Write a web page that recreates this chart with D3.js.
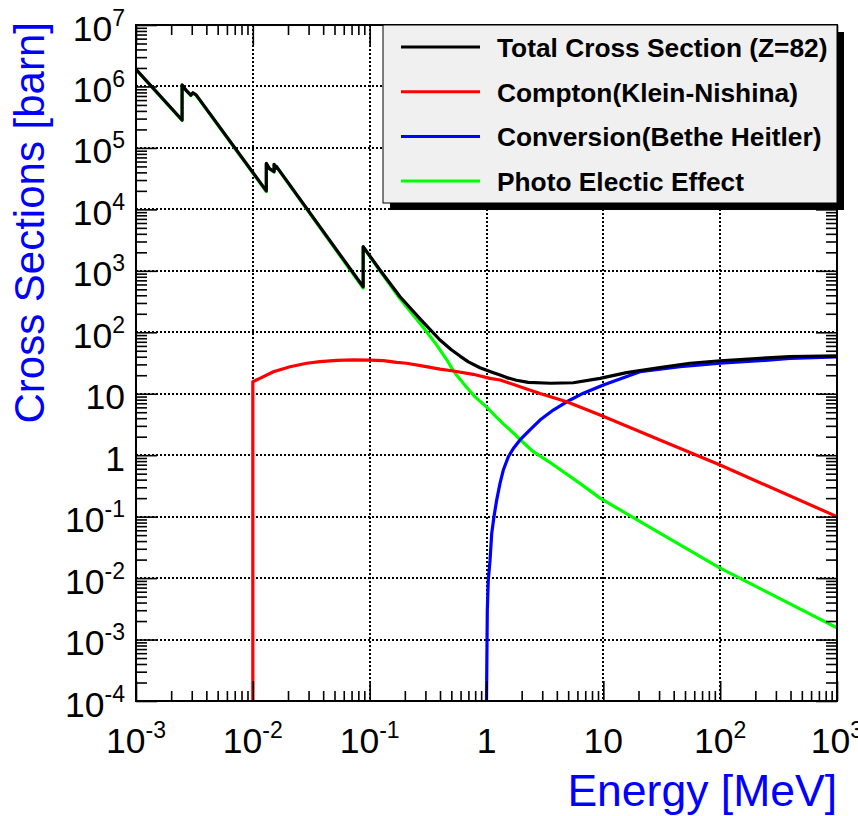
<!DOCTYPE html>
<html>
<head>
<meta charset="utf-8">
<script src="https://d3js.org/d3.v7.min.js"></script>
<style>
  body { margin: 0; background: #fff; }
  svg { display: block; }
  text { font-family: "Liberation Sans", Arial, Helvetica, sans-serif; }
</style>
</head>
<body>
<div id="chart"></div>
<script>
// values (energy in MeV, cross section in barn)
const totalE = [0.001, 0.00248, 0.00248, 0.00268, 0.00295, 0.00307, 0.00327, 0.01304, 0.01304, 0.0138, 0.0152, 0.0152, 0.0159, 0.0159, 0.088, 0.088, 0.1225, 0.182, 0.27, 0.40, 0.5, 0.593, 0.7, 0.879, 1.1, 1.306, 1.49, 1.8, 2.28, 3.55, 5.53, 9.38, 15.8, 30.5, 55.2, 100, 219, 396, 1000];
const totalV = [1.9e6, 2.85e5, 1.06e6, 8.7e5, 7.2e5, 7.9e5, 7.3e5, 2.0e4, 5.6e4, 4.65e4, 4.1e4, 5.4e4, 4.7e4, 5.0e4, 550, 2470, 1030, 378, 165, 74.8, 52, 41, 33, 26.5, 22.6, 20.1, 18.3, 16.6, 15.3, 14.8, 15.1, 17.8, 22.1, 26.6, 31.3, 34.4, 37.7, 40.3, 41.5];

const comptonE = [0.01, 0.01, 0.0115, 0.015, 0.0208, 0.0289, 0.0376, 0.0522, 0.0724, 0.1, 0.131, 0.17, 0.207, 0.288, 0.4, 0.52, 0.77, 1.07, 1.31, 2.87, 4.86, 9.38, 30.5, 100, 1000];
const comptonV = [1e-4, 15.7, 17.8, 22.8, 27.5, 31.3, 33.2, 35.0, 35.5, 35.3, 34.5, 32.4, 31.3, 28.2, 25.2, 23.4, 20.7, 17.8, 16.7, 10.1, 7.4, 4.5, 1.77, 0.69, 0.1];

const conversionE = [1.0, 1.004, 1.016, 1.036, 1.072, 1.108, 1.159, 1.222, 1.305, 1.393, 1.538, 1.696, 1.935, 2.355, 2.87, 3.73, 4.86, 6.75, 10, 20.6, 45.3, 100, 219, 396, 1000];
const conversionV = [1e-4, 2.2e-4, 0.003, 0.0093, 0.0196, 0.053, 0.1, 0.186, 0.348, 0.573, 0.944, 1.28, 1.77, 2.57, 3.73, 5.43, 7.4, 10.2, 13.9, 22.8, 27.5, 31.3, 34.4, 37.7, 39.6];

const photoE = [0.001, 0.00248, 0.00248, 0.00268, 0.00295, 0.00307, 0.00327, 0.01304, 0.01304, 0.0138, 0.0152, 0.0152, 0.0159, 0.0159, 0.088, 0.088, 0.1225, 0.182, 0.288, 0.375, 0.456, 0.515, 0.556, 0.678, 0.798, 1.0, 1.2, 1.4, 1.7, 1.935, 2.5, 3.73, 6.31, 9.38, 30.5, 100, 1000];
const photoV = [1.88e6, 2.8e5, 1.05e6, 8.6e5, 7.1e5, 7.8e5, 7.2e5, 1.95e4, 5.55e4, 4.6e4, 4.05e4, 5.35e4, 4.65e4, 4.95e4, 525, 2440, 1000, 350, 120, 62, 36, 24.5, 20, 12.6, 8.9, 6.1, 4.3, 3.2, 2.3, 1.8, 1.15, 0.70, 0.348, 0.2, 0.0537, 0.0145, 0.00155];

const legendLabels = ["Total Cross Section (Z=82)", "Compton(Klein-Nishina)", "Conversion(Bethe Heitler)", "Photo Electic Effect"];
const legendColors = ["#000000", "#ff0000", "#0000ff", "#00ff00"];

const xTickLabels = ["10^-3", "10^-2", "10^-1", "1", "10", "10^2", "10^3"];
const yTickLabels = ["10^-4", "10^-3", "10^-2", "10^-1", "1", "10", "10^2", "10^3", "10^4", "10^5", "10^6", "10^7"];

const width = 858;
const height = 816;
const plot = { left: 136, right: 837, top: 25, bottom: 701 };

const svg = d3.select("#chart")
    .append("svg")
    .attr("width", width)
    .attr("height", height);

svg.append("rect").attr("width", width).attr("height", height).attr("fill", "#fff");

const x = d3.scaleLog().domain([1e-3, 1e3]).range([plot.left, plot.right]);
const y = d3.scaleLog().domain([1e-4, 1e7]).range([plot.bottom, plot.top]);

// decade and 2..9 ticks
function logTicks(lo, hi) {
    const major = [], minor = [];
    for (let e = lo; e <= hi; e++) {
        major.push(Math.pow(10, e));
        if (e < hi) for (let m = 2; m <= 9; m++) minor.push(m * Math.pow(10, e));
    }
    return { major, minor };
}
const xt = logTicks(-3, 3);
const yt = logTicks(-4, 7);

// dotted grid
const grid = svg.append("g")
    .attr("stroke", "#000")
    .attr("stroke-width", 1.6)
    .attr("stroke-dasharray", "2,2")
    .attr("shape-rendering", "crispEdges");
grid.selectAll(".gx")
    .data(xt.major.slice(1, -1))
    .enter().append("line")
    .attr("x1", d => Math.round(x(d))).attr("x2", d => Math.round(x(d)))
    .attr("y1", plot.top).attr("y2", plot.bottom);
grid.selectAll(".gy")
    .data(yt.major.slice(1, -1))
    .enter().append("line")
    .attr("y1", d => Math.round(y(d))).attr("y2", d => Math.round(y(d)))
    .attr("x1", plot.left).attr("x2", plot.right);

// curves
svg.append("clipPath").attr("id", "clip")
    .append("rect")
    .attr("x", plot.left).attr("y", plot.top)
    .attr("width", plot.right - plot.left).attr("height", plot.bottom - plot.top);

const line = d3.line()
    .x(d => x(d[0]))
    .y(d => y(d[1]));

const series = [
    { e: photoE, v: photoV, color: legendColors[3] },
    { e: conversionE, v: conversionV, color: legendColors[2] },
    { e: comptonE, v: comptonV, color: legendColors[1] },
    { e: totalE, v: totalV, color: legendColors[0] }
];

svg.append("g").attr("clip-path", "url(#clip)")
    .selectAll("path")
    .data(series)
    .enter().append("path")
    .attr("d", s => line(s.e.map((e, i) => [e, s.v[i]])))
    .attr("fill", "none")
    .attr("stroke", s => s.color)
    .attr("stroke-width", 3.2)
    .attr("stroke-linejoin", "round");

// axes: ticks drawn inward on all four sides
const xAll = xt.major.concat(xt.minor);
const yAll = yt.major.concat(yt.minor);
const isMajor = d => Math.abs(Math.log10(d) - Math.round(Math.log10(d))) < 1e-9;

function styleAxis(g) {
    g.select(".domain").remove();
    g.selectAll(".tick text").remove();
    g.selectAll(".tick line").attr("stroke", "#000").attr("stroke-width", 1.6);
}

svg.append("g")
    .attr("transform", `translate(0,${plot.bottom})`)
    .call(d3.axisBottom(x).tickValues(xAll).tickSize(0))
    .call(styleAxis)
    .selectAll(".tick line").attr("y2", d => isMajor(d) ? -20 : -10);

svg.append("g")
    .attr("transform", `translate(0,${plot.top})`)
    .call(d3.axisTop(x).tickValues(xAll).tickSize(0))
    .call(styleAxis)
    .selectAll(".tick line").attr("y2", d => isMajor(d) ? 20 : 10);

svg.append("g")
    .attr("transform", `translate(${plot.left},0)`)
    .call(d3.axisLeft(y).tickValues(yAll).tickSize(0))
    .call(styleAxis)
    .selectAll(".tick line").attr("x2", d => isMajor(d) ? 21 : 11);

svg.append("g")
    .attr("transform", `translate(${plot.right},0)`)
    .call(d3.axisRight(y).tickValues(yAll).tickSize(0))
    .call(styleAxis)
    .selectAll(".tick line").attr("x2", d => isMajor(d) ? -21 : -11);

// frame
svg.append("rect")
    .attr("x", plot.left).attr("y", plot.top)
    .attr("width", plot.right - plot.left).attr("height", plot.bottom - plot.top)
    .attr("fill", "none").attr("stroke", "#000").attr("stroke-width", 2);

// tick labels with superscript exponents
function addLabel(t, label) {
    const parts = label.split("^");
    t.append("tspan").text(parts[0]);
    if (parts.length > 1) {
        t.append("tspan")
            .attr("dy", -15)
            .attr("font-size", 23)
            .text(parts[1]);
    }
}

svg.append("g").selectAll("text")
    .data(xTickLabels)
    .enter().append("text")
    .attr("x", (d, i) => x(xt.major[i]))
    .attr("y", plot.bottom + 52)
    .attr("text-anchor", "middle")
    .attr("font-size", 35.5)
    .attr("fill", "#000")
    .each(function (d) { addLabel(d3.select(this), d); });

svg.append("g").selectAll("text")
    .data(yTickLabels)
    .enter().append("text")
    .attr("x", 125)
    .attr("y", (d, i) => y(yt.major[i]) + 15.5)
    .attr("text-anchor", "end")
    .attr("font-size", 35.5)
    .attr("fill", "#000")
    .each(function (d) { addLabel(d3.select(this), d); });

// axis titles
svg.append("text")
    .attr("x", plot.right)
    .attr("y", 806)
    .attr("text-anchor", "end")
    .attr("font-size", 44.5)
    .attr("fill", "#0000ff")
    .text("Energy [MeV]");

svg.append("text")
    .attr("transform", `translate(44,22) rotate(-90)`)
    .attr("text-anchor", "end")
    .attr("font-size", 42)
    .attr("fill", "#0000ff")
    .text("Cross Sections [barn]");

// legend with drop shadow
const legend = { x: 383, y: 25, w: 454, h: 178 };
svg.append("rect")
    .attr("x", legend.x + 7).attr("y", legend.y + 7)
    .attr("width", legend.w).attr("height", legend.h)
    .attr("fill", "#000");
svg.append("rect")
    .attr("x", legend.x).attr("y", legend.y)
    .attr("width", legend.w).attr("height", legend.h)
    .attr("fill", "#f0f0f0")
    .attr("stroke", "#000")
    .attr("stroke-width", 1);

const entries = svg.append("g").selectAll("g")
    .data(legendLabels)
    .enter().append("g")
    .attr("transform", (d, i) => `translate(0,${47 + i * 44.7})`);

entries.append("line")
    .attr("x1", 401).attr("x2", 480)
    .attr("stroke", (d, i) => legendColors[i])
    .attr("stroke-width", 3);

entries.append("text")
    .attr("x", 497)
    .attr("y", 10)
    .attr("font-size", 26.3)
    .attr("font-weight", "bold")
    .attr("fill", "#000")
    .text(d => d);
</script>
</body>
</html>
